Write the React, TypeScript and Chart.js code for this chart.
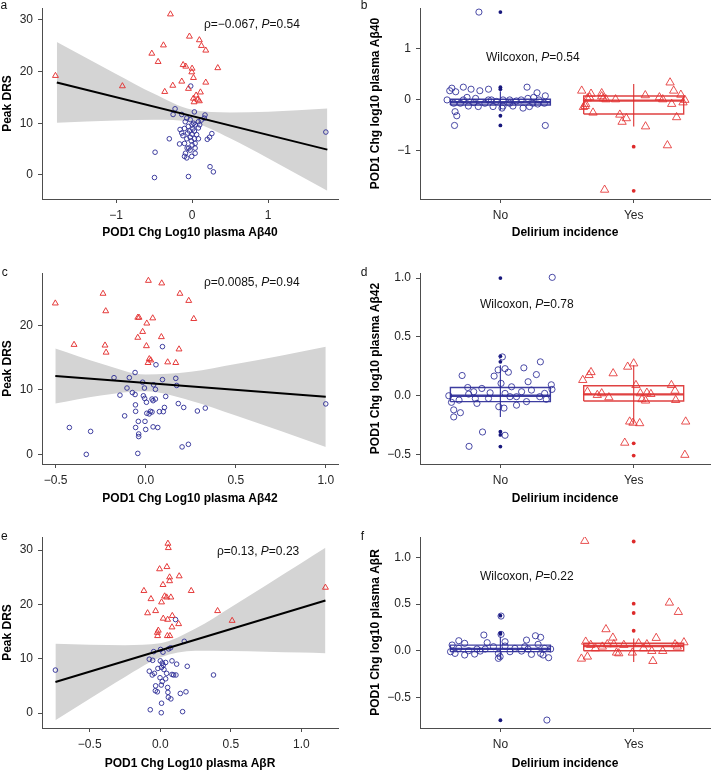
import React, { useEffect, useRef } from 'react';
import { Chart, registerables } from 'chart.js';

Chart.register(...registerables);

const FONT = "'Liberation Sans', Arial, Helvetica, sans-serif";
Chart.defaults.font.family = FONT;
Chart.defaults.font.size = 12;

const BLUE = 'rgba(44,44,150,0.9)';
const BLUE_DARK = '#17177c';
const RED = 'rgba(228,50,50,0.95)';
const RED_DARK = '#dd2a2a';
const BAND = '#d4d4d4';

const categories = ['No', 'Yes'];

// ---------- Panel a: Aβ40 vs Peak DRS ----------
const aNo = [[-0.018,17.2],[-0.224,12.8],[0.03,12.2],[0.17,11.6],[-0.25,11.7],[-0.136,11.7],[-0.07,11.0],[0.16,11.0],[0.083,10.3],[-0.09,10.3],[0.0,9.7],[-0.158,8.8],[-0.1,9.0],[-0.034,8.5],[0.03,8.5],[0.0,7.9],[-0.058,8.1],[0.06,7.8],[0.26,8.0],[0.23,7.3],[0.2,6.9],[-0.025,7.3],[0.03,7.0],[-0.07,7.0],[-0.136,8.1],[-0.3,7.0],[0.083,7.0],[-0.1,6.1],[-0.165,6.0],[0.0,5.8],[-0.044,5.2],[0.04,5.2],[-0.087,4.2],[0.04,4.2],[-0.065,5.2],[-0.026,4.8],[-0.005,3.6],[-0.1,3.6],[-0.07,3.3],[-0.487,4.4],[0.236,1.6],[0.28,0.6],[-0.495,-0.5],[-0.048,-0.3],[1.76,8.3],[0.04,9.7],[0.083,9.1],[-0.025,10.7],[0.02,10.0],[0.1,9.7],[-0.12,7.6],[0.04,6.1],[-0.05,9.4],[0.01,8.9],[-0.01,6.6],[0.12,10.6]];
const aYes = [[-0.285,31.1],[-0.035,26.8],[0.096,26.1],[0.123,25.0],[0.18,24.1],[-0.377,25.1],[-0.53,23.5],[-0.447,21.9],[-0.118,21.3],[-0.083,21.0],[0.0,20.6],[-0.004,19.9],[0.338,20.7],[0.018,18.8],[-0.136,18.1],[0.18,17.9],[-1.798,19.2],[-0.917,17.2],[-0.254,17.3],[-0.048,16.7],[-0.36,16.1],[0.11,16.0],[0.053,15.4],[0.018,14.8],[0.075,14.6],[0.096,14.3],[0.026,14.1]];
const aFitX = [-1.78, 1.78];
const aFitY = [17.9, 4.9];
const aBandX = [-1.78, -1.0, -0.5, 0, 0.5, 1.0, 1.78];
const aBandHi = [25.7, 19.55, 15.7, 12.6, 12.1, 12.25, 12.85];
const aBandLo = [10.1, 10.55, 10.7, 10.2, 7.1, 3.25, -3.05];
const aXTicks = [-1, 0, 1];
const aXLabels = ['−1', '0', '1'];
const aYTicks = [0, 10, 20, 30];
const aYLabels = ['0', '10', '20', '30'];

// ---------- Panel b: Aβ40 by delirium ----------
const bNo = [[-0.161,1.72],[-0.40,0.0],[-0.38,0.18],[-0.364,0.23],[-0.335,0.16],[-0.278,0.25],[-0.22,0.21],[-0.154,0.18],[-0.089,0.21],[0.2,0.25],[0.275,0.14],[0.337,0.08],[-0.34,-0.23],[-0.327,-0.31],[-0.344,-0.5],[0.337,-0.5],[-0.30,-0.065],[-0.24,-0.12],[-0.166,-0.13],[-0.116,-0.065],[-0.067,0.0],[-0.03,-0.03],[0.012,-0.16],[0.02,0.0],[0.069,-0.065],[0.12,-0.02],[0.17,-0.16],[0.206,0.03],[0.243,-0.065],[0.29,0.0],[0.33,-0.065],[-0.278,0.0],[-0.2,-0.05],[0.094,-0.12],[0.02,-0.12],[0.218,-0.13],[0.28,-0.08],[-0.09,0.0],[-0.186,0.03],[0.07,0.0],[0.156,0.0],[-0.35,-0.065],[-0.055,-0.13],[0.25,0.05],[-0.25,0.05]];
const bYes = [[-0.39,0.18],[-0.32,0.12],[-0.24,0.13],[-0.208,0.01],[-0.136,0.01],[-0.347,0.03],[-0.364,-0.12],[-0.377,-0.14],[-0.305,-0.25],[-0.104,-0.29],[-0.055,-0.36],[-0.087,-0.43],[0.087,0.09],[0.089,-0.52],[0.193,0.05],[0.218,0.01],[0.273,0.34],[0.3,0.18],[0.354,0.1],[0.384,0.0],[0.37,-0.05],[0.285,-0.08],[0.322,-0.34],[0.253,-0.89],[-0.218,-1.76],[-0.228,0.03],[-0.24,0.07],[-0.33,0.05],[-0.36,-0.08]];
// [q1, median, q3, whisker low, whisker high]
const bBoxNo = [-0.098, -0.045, 0.014, -0.2, 0.17];
const bBoxYes = [-0.275, -0.013, 0.078, -0.52, 0.31];
const bOutNo = [1.72, 0.25, 0.21, -0.31, -0.5];
const bOutYes = [-0.915, -1.78];
const bYTicks = [-1, 0, 1];
const bYLabels = ['−1', '0', '1'];

// ---------- Panel c: Aβ42 vs Peak DRS ----------
const cNo = [[0.093,16.7],[0.057,13.9],[-0.059,12.7],[-0.176,11.9],[-0.091,11.9],[0.167,11.8],[0.093,11.6],[-0.017,11.2],[0.172,10.7],[0.044,10.8],[-0.104,10.3],[-0.007,10.3],[0.054,10.1],[-0.074,9.6],[-0.059,9.3],[-0.143,9.2],[-0.013,9.1],[0.111,9.0],[-0.006,8.7],[0.035,8.6],[0.054,8.6],[0.041,8.35],[0.004,8.1],[0.181,7.9],[0.211,7.3],[-0.057,7.7],[0.104,7.3],[0.331,7.2],[0.287,6.75],[0.026,6.7],[0.035,6.6],[0.076,6.65],[0.098,6.65],[0.006,6.4],[0.019,6.3],[-0.056,6.7],[-0.117,6.0],[-0.041,5.15],[-0.004,5.15],[-0.056,4.2],[0.0,3.9],[0.041,4.3],[0.067,4.2],[-0.424,4.2],[-0.306,3.6],[-0.039,3.2],[-0.039,2.8],[0.202,1.2],[0.237,1.6],[-0.33,0.05],[-0.044,0.2],[1.0,7.85]];
const cYes = [[0.015,26.9],[0.089,26.5],[-0.237,24.9],[0.19,24.9],[0.239,23.8],[-0.502,23.4],[-0.222,22.2],[-0.044,21.2],[-0.037,21.2],[0.039,21.1],[0.267,21.0],[0.006,20.3],[-0.017,19.0],[-0.044,18.1],[0.087,18.2],[-0.398,17.0],[-0.226,16.9],[0.004,16.8],[0.185,16.3],[-0.22,15.8],[0.02,14.8],[0.028,14.6],[0.013,14.2],[0.122,14.3],[0.167,14.2]];
const cFitX = [-0.502, 1.0];
const cFitY = [12.16, 8.97];
const cBandX = [-0.502, -0.25, 0, 0.25, 0.5, 0.75, 1.0];
const cBandHi = [16.4, 14.1, 12.4, 12.8, 14.0, 15.3, 16.7];
const cBandLo = [7.9, 9.15, 9.8, 8.35, 6.07, 3.67, 1.2];
const cXTicks = [-0.5, 0, 0.5, 1];
const cXLabels = ['−0.5', '0.0', '0.5', '1.0'];
const cYTicks = [0, 10, 20];
const cYLabels = ['0', '10', '20'];

// ---------- Panel d: Aβ42 by delirium ----------
const dNo = [[0.389,1.006],[0.015,0.33],[0.035,0.23],[-0.017,0.22],[0.06,0.2],[-0.047,0.167],[-0.287,0.172],[0.176,0.237],[0.3,0.288],[0.27,0.18],[0.382,0.093],[0.387,0.054],[-0.387,0.0],[-0.367,-0.056],[-0.35,-0.12],[-0.35,-0.18],[-0.3,-0.144],[-0.134,-0.308],[-0.235,-0.43],[0.035,-0.336],[0.027,-0.105],[-0.012,-0.093],[0.005,0.105],[-0.245,0.07],[-0.2,0.034],[-0.139,0.062],[-0.089,-0.023],[-0.176,-0.065],[-0.238,0.014],[-0.31,-0.037],[0.084,0.076],[0.121,-0.008],[0.159,0.034],[0.196,-0.05],[0.233,0.048],[0.295,-0.008],[0.344,-0.03],[0.121,-0.08],[0.072,-0.008],[0.208,0.119],[0.035,0.02],[-0.077,0.025],[-0.188,-0.023],[0.332,0.02]];
const dYes = [[-0.382,0.133],[-0.335,0.175],[-0.32,0.2],[-0.154,0.19],[-0.045,0.246],[0.0,0.274],[0.017,0.09],[-0.347,0.034],[-0.273,0.006],[-0.24,0.02],[-0.186,-0.014],[0.05,0.02],[0.099,0.025],[0.129,0.014],[0.062,-0.03],[0.089,-0.042],[0.283,0.09],[0.31,0.042],[0.315,-0.037],[-0.03,-0.22],[-0.005,-0.23],[0.045,-0.234],[0.39,-0.22],[-0.067,-0.4],[0.384,-0.503]];
const dBoxNo = [-0.05, 0.0, 0.07, -0.18, 0.26];
const dBoxYes = [-0.045, 0.012, 0.085, -0.234, 0.26];
const dOutNo = [1.0, 0.336, 0.288, -0.305, -0.333, -0.432];
const dOutYes = [-0.404, -0.508];
const dYTicks = [-0.5, 0, 0.5, 1];
const dYLabels = ['−0.5', '0.0', '0.5', '1.0'];

// ---------- Panel e: AβR vs Peak DRS ----------
const eNo = [[0.108,17.2],[0.17,13.2],[0.073,12.0],[0.059,11.8],[0.002,11.7],[-0.047,11.3],[0.019,11.2],[-0.078,9.9],[-0.054,9.7],[0.0,9.6],[0.083,9.6],[0.014,9.2],[0.038,9.3],[0.116,9.0],[0.021,8.8],[0.009,8.4],[0.191,8.6],[-0.017,8.2],[0.026,8.0],[-0.078,7.7],[-0.042,7.3],[0.045,7.3],[-0.057,7.0],[0.083,7.1],[0.111,7.0],[0.094,7.0],[0.377,7.0],[-0.002,6.5],[0.038,6.3],[0.014,5.8],[-0.033,5.0],[0.007,5.15],[0.052,4.7],[-0.035,4.1],[-0.021,3.9],[0.054,3.8],[0.142,3.6],[0.182,3.9],[0.057,2.9],[0.075,2.6],[0.009,1.8],[-0.071,0.6],[0.007,0.05],[0.158,0.25],[-0.743,7.9]];
const eYes = [[0.054,31.2],[0.057,30.4],[0.047,26.9],[-0.005,26.5],[0.134,25.2],[0.066,25.0],[0.066,24.3],[0.019,23.6],[-0.116,22.5],[0.219,22.5],[-0.066,21.0],[0.031,21.5],[0.045,21.3],[0.075,21.3],[0.009,20.4],[1.17,23.1],[0.406,18.8],[-0.09,18.4],[-0.033,18.8],[0.085,17.9],[0.021,17.4],[0.052,17.2],[0.509,17.0],[0.13,16.4],[0.083,15.8],[-0.014,15.2],[-0.021,14.8],[0.05,14.2],[0.068,14.2],[-0.019,14.2]];
const eFitX = [-0.743, 1.17];
const eFitY = [5.7, 20.7];
const eBandX = [-0.743, -0.5, -0.25, 0, 0.25, 0.5, 0.75, 1.0, 1.17];
const eBandHi = [12.73, 12.58, 12.49, 12.83, 15.54, 19.47, 23.53, 27.62, 30.4];
const eBandLo = [-1.33, 2.64, 6.65, 10.23, 11.44, 11.43, 11.29, 11.12, 11.0];
const eXTicks = [-0.5, 0, 0.5, 1];
const eXLabels = ['−0.5', '0.0', '0.5', '1.0'];
const eYTicks = [0, 10, 20, 30];
const eYLabels = ['0', '10', '20', '30'];

// ---------- Panel f: AβR by delirium ----------
const fNo = [[0.005,0.371],[0.005,0.175],[0.349,-0.743],[-0.124,0.168],[-0.312,0.107],[0.263,0.16],[0.302,0.143],[0.196,0.114],[-0.099,0.086],[-0.268,0.079],[-0.362,0.061],[-0.374,-0.011],[-0.34,-0.029],[-0.268,-0.046],[-0.193,-0.036],[-0.176,0.018],[-0.238,0.0],[-0.052,0.043],[-0.015,-0.029],[-0.015,-0.082],[-0.002,-0.064],[0.035,0.05],[0.072,-0.011],[0.109,0.025],[0.159,-0.004],[0.208,0.018],[0.233,-0.039],[0.283,0.068],[0.302,-0.029],[0.332,0.025],[0.362,-0.075],[0.377,0.018],[0.32,-0.046],[-0.114,0.018],[-0.312,0.025],[-0.151,-0.004],[0.183,0.043],[0.035,0.096]];
const fYes = [[-0.367,1.175],[0.268,0.514],[0.335,0.414],[-0.208,0.229],[-0.156,0.139],[0.169,0.136],[-0.36,0.096],[-0.392,-0.086],[-0.347,-0.064],[-0.287,0.025],[-0.235,0.043],[-0.198,0.068],[-0.149,0.068],[-0.129,-0.021],[-0.112,-0.029],[-0.074,0.061],[-0.01,-0.021],[0.037,0.079],[0.099,0.068],[0.136,-0.004],[0.144,-0.111],[0.218,-0.004],[0.31,0.068],[0.327,0.043],[0.377,0.089],[-0.322,0.061],[0.074,0.025]];
const fBoxNo = [-0.01, 0.02, 0.06, -0.09, 0.15];
const fBoxYes = [0.0, 0.05, 0.08, -0.12, 0.13];
const fOutNo = [0.375, 0.19, 0.18, -0.745];
const fOutYes = [1.17, 0.504, 0.404, 0.214];
const fYTicks = [-0.5, 0, 0.5, 1];
const fYLabels = ['−0.5', '0.0', '0.5', '1.0'];

const catTicks = [1, 2];
const BOX_HALF = 0.375;
const CAT_MIN = 0.397;
const CAT_MAX = 2.574;

type Part = { t: string; i?: boolean };

const toPts = (arr: number[][], dx = 0) => arr.map(([x, y]) => ({ x: x + dx, y }));
const xy = (xs: number[], ys: number[]) => xs.map((x, i) => ({ x, y: ys[i] }));

function scatterSets(no: number[][], yes: number[][], fitX: number[], fitY: number[], bx: number[], lo: number[], hi: number[]) {
  return [
    { type: 'line', data: xy(bx, hi), fill: '+1', backgroundColor: BAND, borderColor: 'rgba(0,0,0,0)', borderWidth: 0, pointRadius: 0, cubicInterpolationMode: 'monotone', order: 10 },
    { type: 'line', data: xy(bx, lo), fill: false, borderColor: 'rgba(0,0,0,0)', borderWidth: 0, pointRadius: 0, cubicInterpolationMode: 'monotone', order: 11 },
    { type: 'scatter', data: toPts(no), pointStyle: 'circle', pointRadius: 2.3, borderColor: BLUE, backgroundColor: 'rgba(0,0,0,0)', borderWidth: 1, order: 4 },
    { type: 'scatter', data: toPts(yes), pointStyle: 'triangle', pointRadius: 3.4, borderColor: RED, backgroundColor: 'rgba(0,0,0,0)', borderWidth: 1, order: 3 },
    { type: 'line', data: xy(fitX, fitY), borderColor: '#000', borderWidth: 2, pointRadius: 0, fill: false, order: 1 },
  ];
}

function boxSets(cat: number, s: number[], out: number[], color: string, dark: string) {
  const [q1, med, q3, lo, hi] = s;
  const h = BOX_HALF;
  const common = { type: 'line', pointRadius: 0, fill: false, tension: 0, borderColor: color, order: 6 };
  return [
    { ...common, data: [{ x: cat - h, y: q1 }, { x: cat + h, y: q1 }, { x: cat + h, y: q3 }, { x: cat - h, y: q3 }, { x: cat - h, y: q1 }], borderWidth: 1.4 },
    { ...common, data: [{ x: cat - h, y: med }, { x: cat + h, y: med }], borderWidth: 2.4 },
    { ...common, data: [{ x: cat, y: lo }, { x: cat, y: hi }], borderWidth: 1.2 },
    { type: 'scatter', data: out.map((y) => ({ x: cat, y })), pointStyle: 'circle', pointRadius: 1.9, backgroundColor: dark, borderWidth: 0, order: 5 },
  ];
}

function boxPanelSets(no: number[][], yes: number[][], sNo: number[], sYes: number[], oNo: number[], oYes: number[]) {
  return [
    ...boxSets(1, sNo, oNo, 'rgba(40,40,150,0.9)', BLUE_DARK),
    ...boxSets(2, sYes, oYes, 'rgba(220,45,45,0.9)', RED_DARK),
    { type: 'scatter', data: toPts(no, 1), pointStyle: 'circle', pointRadius: 3.1, borderColor: 'rgba(44,44,150,0.85)', backgroundColor: 'rgba(0,0,0,0)', borderWidth: 1, order: 3 },
    { type: 'scatter', data: toPts(yes, 2), pointStyle: 'triangle', pointRadius: 4.8, borderColor: 'rgba(228,50,50,0.85)', backgroundColor: 'rgba(0,0,0,0)', borderWidth: 1, order: 2 },
  ];
}

type PanelCfg = {
  left: number; top: number; w: number; h: number; area: number[];
  xMin: number; xMax: number; yMin: number; yMax: number;
  xTicks: number[]; xLabels: string[]; yTicks: number[]; yLabels: string[];
  xTitle: string; yTitle: string; xTitlePad: number; yTitlePad: number;
  letter: string; letterX: number; letterY: number;
  note: Part[]; noteX: number; noteY: number;
  datasets: any[];
};

function axis(min: number, max: number, ticks: number[], labels: string[], title: string, pad: any, horiz: boolean, size: number) {
  return {
    type: 'linear', min, max, position: horiz ? 'bottom' : 'left',
    afterBuildTicks: (ax: any) => { ax.ticks = ticks.map((v) => ({ value: v })); },
    afterFit: (ax: any) => {
      if (horiz) ax.height = size; else ax.width = size;
      ax.paddingLeft = 0; ax.paddingRight = 0; ax.paddingTop = 0; ax.paddingBottom = 0;
    },
    ticks: {
      autoSkip: false, maxRotation: 0, padding: 5, color: '#262626',
      font: { size: 12, family: FONT },
      callback: (v: number) => { const i = ticks.indexOf(v); return i >= 0 ? labels[i] : ''; },
    },
    grid: { display: true, drawOnChartArea: false, drawTicks: true, tickLength: 4, color: '#4d4d4d', tickColor: '#4d4d4d', lineWidth: 1 },
    border: { display: true, color: '#4d4d4d', width: 1 },
    title: { display: true, text: title, color: '#000', font: { size: 12, weight: 'bold', family: FONT }, padding: pad },
  };
}

function textPlugin(p: PanelCfg) {
  return {
    id: 'panelText',
    afterDraw(chart: any) {
      const ctx = chart.ctx;
      ctx.save();
      ctx.fillStyle = '#111';
      ctx.textBaseline = 'middle';
      ctx.textAlign = 'left';
      ctx.font = `12px ${FONT}`;
      ctx.fillText(p.letter, p.letterX, p.letterY);
      let x = p.noteX;
      for (const part of p.note) {
        ctx.font = `${part.i ? 'italic ' : ''}12px ${FONT}`;
        ctx.fillText(part.t, x, p.noteY);
        x += ctx.measureText(part.t).width;
      }
      ctx.restore();
    },
  };
}

function buildConfig(p: PanelCfg): any {
  const [l, t, r, b] = p.area;
  return {
    type: 'scatter',
    data: { datasets: p.datasets },
    options: {
      responsive: false,
      animation: false,
      events: [],
      layout: { padding: { left: 0, top: t, right: p.w - r, bottom: 0 } },
      plugins: { legend: { display: false }, tooltip: { enabled: false } },
      scales: {
        x: axis(p.xMin, p.xMax, p.xTicks, p.xLabels, p.xTitle, { top: 0, bottom: p.xTitlePad }, true, p.h - b),
        y: axis(p.yMin, p.yMax, p.yTicks, p.yLabels, p.yTitle, { top: p.yTitlePad, bottom: 0 }, false, l),
      },
    },
    plugins: [textPlugin(p)],
  };
}

const panels: PanelCfg[] = [
  {
    left: 0, top: 0, w: 358, h: 250, area: [42, 8, 338, 199],
    xMin: -1.975, xMax: 1.92, yMin: -4.65, yMax: 32.3,
    xTicks: aXTicks, xLabels: aXLabels, yTicks: aYTicks, yLabels: aYLabels,
    xTitle: 'POD1 Chg Log10 plasma Aβ40', yTitle: 'Peak DRS', xTitlePad: 9.8, yTitlePad: 0,
    letter: 'a', letterX: 0.5, letterY: 6,
    note: [{ t: 'ρ=−0.067, ' }, { t: 'P', i: true }, { t: '=0.54' }], noteX: 204, noteY: 25,
    datasets: scatterSets(aNo, aYes, aFitX, aFitY, aBandX, aBandLo, aBandHi),
  },
  {
    left: 358, top: 0, w: 358, h: 250, area: [62, 8, 358, 199],
    xMin: CAT_MIN, xMax: CAT_MAX, yMin: -1.94, yMax: 1.8,
    xTicks: catTicks, xLabels: categories, yTicks: bYTicks, yLabels: bYLabels,
    xTitle: 'Delirium incidence', yTitle: 'POD1 Chg log10 plasma Aβ40', xTitlePad: 9.8, yTitlePad: 10,
    letter: 'b', letterX: 2.7, letterY: 6,
    note: [{ t: 'Wilcoxon, ' }, { t: 'P', i: true }, { t: '=0.54' }], noteX: 128, noteY: 58,
    datasets: boxPanelSets(bNo, bYes, bBoxNo, bBoxYes, bOutNo, bOutYes),
  },
  {
    left: 0, top: 250, w: 358, h: 258, area: [42, 23, 338, 214],
    xMin: -0.576, xMax: 1.068, yMin: -1.44, yMax: 28.08,
    xTicks: cXTicks, xLabels: cXLabels, yTicks: cYTicks, yLabels: cYLabels,
    xTitle: 'POD1 Chg Log10 plasma Aβ42', yTitle: 'Peak DRS', xTitlePad: 2.5, yTitlePad: 0,
    letter: 'c', letterX: 1.7, letterY: 23,
    note: [{ t: 'ρ=0.0085, ' }, { t: 'P', i: true }, { t: '=0.94' }], noteX: 204, noteY: 33,
    datasets: scatterSets(cNo, cYes, cFitX, cFitY, cBandX, cBandLo, cBandHi),
  },
  {
    left: 358, top: 250, w: 358, h: 258, area: [62, 23, 358, 214],
    xMin: CAT_MIN, xMax: CAT_MAX, yMin: -0.58, yMax: 1.043,
    xTicks: catTicks, xLabels: categories, yTicks: dYTicks, yLabels: dYLabels,
    xTitle: 'Delirium incidence', yTitle: 'POD1 Chg log10 plasma Aβ42', xTitlePad: 2.5, yTitlePad: 10,
    letter: 'd', letterX: 2.7, letterY: 23,
    note: [{ t: 'Wilcoxon, ' }, { t: 'P', i: true }, { t: '=0.78' }], noteX: 122, noteY: 55,
    datasets: boxPanelSets(dNo, dYes, dBoxNo, dBoxYes, dOutNo, dOutYes),
  },
  {
    left: 0, top: 505, w: 358, h: 267, area: [42, 32, 338, 223],
    xMin: -0.838, xMax: 1.259, yMin: -2.76, yMax: 32.4,
    xTicks: eXTicks, xLabels: eXLabels, yTicks: eYTicks, yLabels: eYLabels,
    xTitle: 'POD1 Chg Log10 plasma AβR', yTitle: 'Peak DRS', xTitlePad: 1.5, yTitlePad: 0,
    letter: 'e', letterX: 1, letterY: 32,
    note: [{ t: 'ρ=0.13, ' }, { t: 'P', i: true }, { t: '=0.23' }], noteX: 217, noteY: 47,
    datasets: scatterSets(eNo, eYes, eFitX, eFitY, eBandX, eBandLo, eBandHi),
  },
  {
    left: 358, top: 505, w: 358, h: 267, area: [62, 32, 358, 223],
    xMin: CAT_MIN, xMax: CAT_MAX, yMin: -0.828, yMax: 1.218,
    xTicks: catTicks, xLabels: categories, yTicks: fYTicks, yLabels: fYLabels,
    xTitle: 'Delirium incidence', yTitle: 'POD1 Chg log10 plasma AβR', xTitlePad: 1.5, yTitlePad: 10,
    letter: 'f', letterX: 2.7, letterY: 32,
    note: [{ t: 'Wilcoxon, ' }, { t: 'P', i: true }, { t: '=0.22' }], noteX: 122, noteY: 72,
    datasets: boxPanelSets(fNo, fYes, fBoxNo, fBoxYes, fOutNo, fOutYes),
  },
];

function Panel({ cfg }: { cfg: PanelCfg }) {
  const ref = useRef<HTMLCanvasElement>(null);
  useEffect(() => {
    const chart = new Chart(ref.current as HTMLCanvasElement, buildConfig(cfg));
    return () => chart.destroy();
  }, [cfg]);
  return (
    <canvas
      ref={ref}
      width={cfg.w}
      height={cfg.h}
      style={{ position: 'absolute', left: cfg.left, top: cfg.top, width: cfg.w, height: cfg.h }}
    />
  );
}

export default function App() {
  return (
    <div style={{ position: 'fixed', left: 0, top: 0, width: 716, height: 772, background: '#fff', overflow: 'hidden' }}>
      {panels.map((p, i) => (
        <Panel key={i} cfg={p} />
      ))}
    </div>
  );
}
